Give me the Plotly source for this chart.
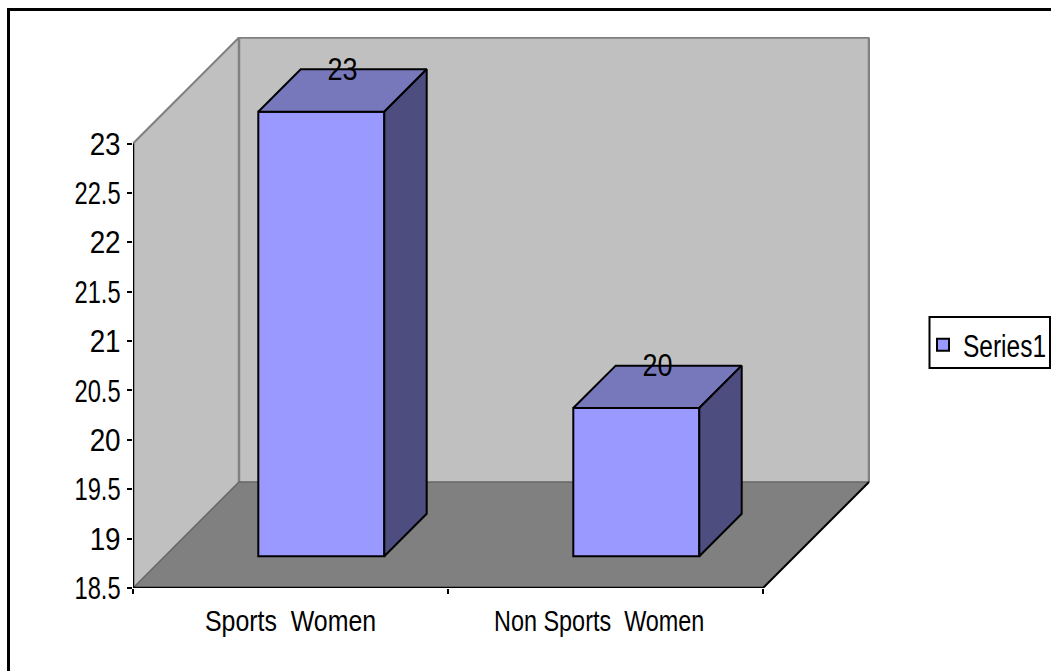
import plotly.graph_objects as go

CATEGORIES = ["Sports  Women", "Non Sports  Women"]
CATEGORY_POS = [0.5, 1.48]
VALUES = [23, 20]
SERIES_NAME = "Series1"
Y_TICKS = [18.5, 19, 19.5, 20, 20.5, 21, 21.5, 22, 22.5, 23]
Y_TICK_LABELS = ["18.5", "19", "19.5", "20", "20.5", "21", "21.5", "22", "22.5", "23"]

W, H = 1051, 671
L, R, T, B = 133, 870, 37, 588
PX_X = 315.0                 # px per category
PX_Y = 444.5 / 4.5           # px per value unit
Y_MIN, Y_MAX = 18.5, 23
FONT = "Liberation Sans"

DX = 106 / PX_X              # oblique depth of the box, x units
DY = 106 / PX_Y              # oblique depth of the box, y units
F0, F1 = 0.30, 0.70          # depth fractions of bar front and back
BW = 0.40
BAR_SHIFT = -1 / PX_X        # small horizontal nudge of the bars
LABEL_LIFT = 3 / PX_Y


def depth(x, y, f):
    return x + DX * f, y + DY * f


fig = go.Figure()

# Front faces
fig.add_trace(go.Bar(
    x=[i + 0.5 + BAR_SHIFT + DX * F0 for i in range(len(VALUES))],
    y=[v - Y_MIN for v in VALUES],
    base=Y_MIN + DY * F0,
    width=BW,
    name=SERIES_NAME,
    marker=dict(color="#9999FF", line=dict(color="black", width=2)),
    showlegend=True,
    hoverinfo="skip",
))

# Top and side faces
for i, v in enumerate(VALUES):
    x0, x1 = i + 0.5 + BAR_SHIFT - BW / 2, i + 0.5 + BAR_SHIFT + BW / 2
    pts_top = [depth(x0, v, F0), depth(x1, v, F0), depth(x1, v, F1), depth(x0, v, F1), depth(x0, v, F0)]
    pts_side = [depth(x1, Y_MIN, F0), depth(x1, v, F0), depth(x1, v, F1), depth(x1, Y_MIN, F1), depth(x1, Y_MIN, F0)]
    for pts, col in ((pts_top, "#7777BB"), (pts_side, "#4D4D80")):
        fig.add_trace(go.Scatter(
            x=[p[0] for p in pts], y=[p[1] for p in pts],
            mode="lines", fill="toself", fillcolor=col,
            line=dict(color="black", width=2),
            showlegend=False, hoverinfo="skip",
        ))

# Value labels
lab = [depth(i + 0.5 + BAR_SHIFT, v + LABEL_LIFT, (F0 + F1) / 2) for i, v in enumerate(VALUES)]
fig.add_trace(go.Scatter(
    x=[p[0] for p in lab], y=[p[1] for p in lab],
    mode="text", text=[str(v) for v in VALUES], textposition="top center",
    textfont=dict(family=FONT, size=31, color="black"),
    showlegend=False, hoverinfo="skip", cliponaxis=False,
))

n = len(VALUES)
shapes = []


def poly(pts, fill):
    path = "M " + " L ".join(f"{x},{y}" for x, y in pts) + " Z"
    shapes.append(dict(type="path", path=path, xref="x", yref="y", layer="below",
                       fillcolor=fill, line=dict(width=0)))


def seg(p, q, col, width=2):
    shapes.append(dict(type="line", x0=p[0], y0=p[1], x1=q[0], y1=q[1], xref="x", yref="y",
                       layer="below", line=dict(color=col, width=width)))


A = (0, Y_MIN)
Bt = (0, Y_MAX)
C = (n, Y_MIN)
A2 = depth(0, Y_MIN, 1)
Bt2 = depth(0, Y_MAX, 1)
C2 = depth(n, Y_MIN, 1)
D2 = depth(n, Y_MAX, 1)
poly([A, Bt, Bt2, A2], "#C0C0C0")
poly([A2, Bt2, D2, C2], "#C0C0C0")
poly([A, C, C2, A2], "#808080")
seg(Bt, Bt2, "#808080")
seg(A2, Bt2, "#808080", 2.5)
seg(Bt2, D2, "#808080", 2.5)
seg(D2, C2, "#808080", 2.5)
seg(A2, C2, "#666666", 1.5)
seg(A, A2, "#666666", 1.5)
seg(C, C2, "black")
seg(A, C, "black", 2.5)
seg(A, Bt, "black", 2.5)


def px(x):
    return (x - L) / (R - L)


def py(y):
    return (B - y) / (B - T)


# Outer chart border (runs off the right and bottom of the picture)
shapes.append(dict(type="path", xref="paper", yref="paper", layer="above",
                   path=f"M {px(8.5)},{py(700)} L {px(8.5)},{py(9.5)} L {px(1100)},{py(9.5)}",
                   line=dict(color="black", width=3)))
# Legend frame
shapes.append(dict(type="rect", xref="paper", yref="paper", layer="below",
                   x0=px(929.5), x1=px(1050), y0=py(368), y1=py(317),
                   fillcolor="white", line=dict(color="black", width=2)))

fig.update_layout(
    width=W, height=H,
    margin=dict(l=L, r=W - R, t=T, b=H - B, pad=0),
    paper_bgcolor="white", plot_bgcolor="rgba(0,0,0,0)",
    barmode="overlay",
    shapes=shapes,
    font=dict(family=FONT, color="black", size=30),
    legend=dict(
        xref="container", yref="container",
        x=923 / W, y=1 - 318 / H, xanchor="left", yanchor="top",
        bgcolor="rgba(0,0,0,0)", borderwidth=0,
        font=dict(family=FONT, size=31, color="black"),
        itemwidth=30, entrywidth=86, entrywidthmode="pixels",
    ),
    xaxis=dict(
        range=[0, (R - L) / PX_X], showgrid=False, zeroline=False, showline=False,
        tickmode="array", tickvals=CATEGORY_POS, ticktext=CATEGORIES,
        ticks="", tickfont=dict(family=FONT, size=30), ticklabelstandoff=12,
        minor=dict(tickmode="array", tickvals=list(range(n + 1)), ticks="outside",
                   ticklen=5, tickwidth=2, tickcolor="black", showgrid=False),
    ),
    yaxis=dict(
        range=[Y_MIN, Y_MIN + (B - T) / PX_Y], showgrid=False, zeroline=False, showline=False,
        tickmode="array", tickvals=Y_TICKS, ticktext=Y_TICK_LABELS,
        ticks="outside", ticklen=5, tickwidth=2, tickcolor="black",
        tickfont=dict(family=FONT, size=32),
    ),
)

# The reference type is a narrow grotesque: condense the real text elements.
POST = """
document.body.style.margin='0';
var gd=document.getElementById('{plot_id}');
function squeeze(){
  gd.querySelectorAll('svg text').forEach(function(t){
    if(t.dataset.sq) return;
    var len=t.getComputedTextLength();
    var s=t.textContent, r=0.79;
    if(s.indexOf('.')>=0) r=0.74;
    else if(/^[0-9]+$/.test(s)) r=0.87;
    else if(s.indexOf('Non')===0) r=0.78;
    else if(s.indexOf('Sports')===0) r=0.83;
    if(len>0){
      t.setAttribute('textLength',len*r);
      t.setAttribute('lengthAdjust','spacingAndGlyphs');
      t.dataset.sq='1';
    }
  });
}
setTimeout(squeeze,0);
gd.on('plotly_afterplot',squeeze);
"""
fig.write_html("out.html", config={"displayModeBar": False}, post_script=POST)
